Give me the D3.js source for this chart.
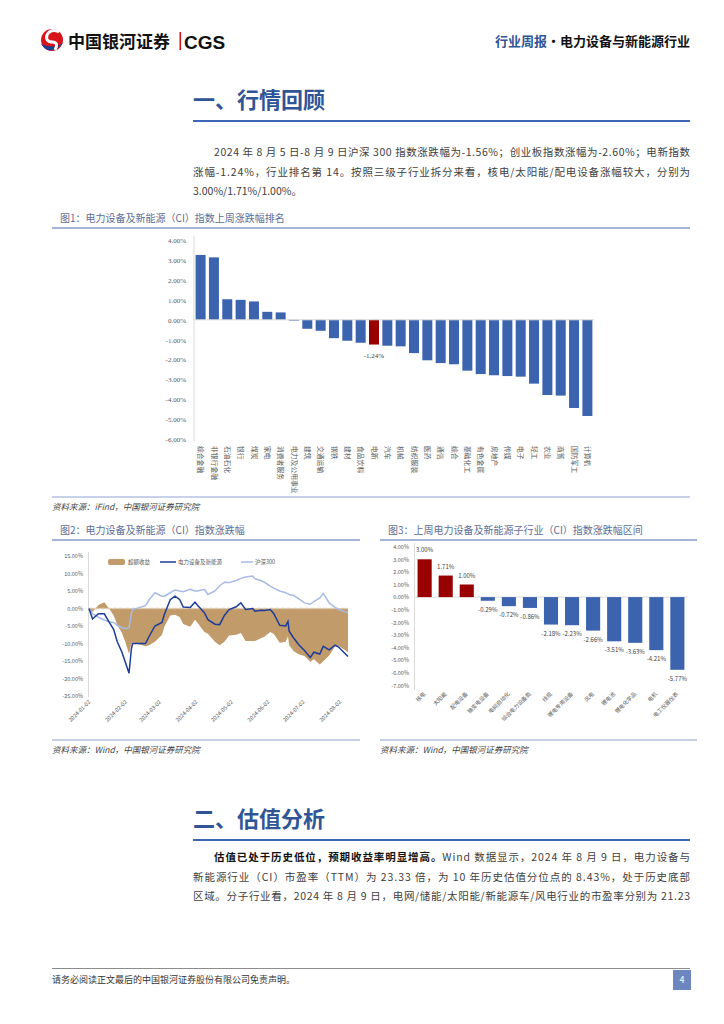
<!DOCTYPE html>
<html><head><meta charset="utf-8">
<script src="https://cdn.jsdelivr.net/npm/d3@7"></script>
<style>
html,body{margin:0;padding:0;background:#fff;}
svg{display:block;}
text{font-family:"Noto Sans CJK SC","Noto Sans",sans-serif;}
</style></head><body>
<svg id="page" width="724" height="1024"></svg>
<script>
// ---------------- DATA ----------------
const rankCategories = ["综合金融","非银行金融","石油石化","银行","煤炭","家电","消费者服务","电力及公用事业","建筑","交通运输","钢铁","建材","食品饮料","电新","汽车","机械","纺织服装","医药","通信","综合","基础化工","有色金属","房地产","传媒","电子","轻工","农业","商贸","国防军工","计算机"];
const rankValues = [3.25,3.13,1.03,1.00,0.92,0.40,0.37,-0.04,-0.45,-0.55,-0.92,-1.05,-1.15,-1.24,-1.30,-1.33,-1.67,-2.03,-2.17,-2.23,-2.55,-2.72,-2.78,-2.82,-2.85,-3.20,-3.77,-3.80,-4.42,-4.82];
const rankHighlight = "电新";
const rankTicks = [4,3,2,1,0,-1,-2,-3,-4,-5,-6];

const trendDates = ["2024-01-02","2024-01-05","2024-01-10","2024-01-15","2024-01-19","2024-01-23","2024-01-26","2024-01-30","2024-02-02","2024-02-05","2024-02-07","2024-02-08","2024-02-19","2024-02-22","2024-02-27","2024-03-04","2024-03-06","2024-03-11","2024-03-15","2024-03-19","2024-03-22","2024-03-28","2024-04-01","2024-04-03","2024-04-09","2024-04-12","2024-04-18","2024-04-22","2024-04-26","2024-04-30","2024-05-06","2024-05-10","2024-05-14","2024-05-20","2024-05-22","2024-05-27","2024-05-30","2024-06-04","2024-06-07","2024-06-12","2024-06-17","2024-06-19","2024-06-20","2024-06-24","2024-06-28","2024-07-03","2024-07-08","2024-07-11","2024-07-16","2024-07-19","2024-07-24","2024-07-29","2024-08-01","2024-08-06","2024-08-09"];
const sectorReturn = [0,-3.0,-1.5,-1.5,-3.8,-6.0,-9.5,-12.5,-15.5,-18.5,-11.5,-10.0,-10.0,-8.0,-5.0,-4.0,-1.7,2.5,3.5,2.6,0.4,0.3,1.8,1.0,-1.2,-3.2,-4.5,-4.6,-2.0,-0.3,0.5,1.6,-0.3,0.0,-0.8,-0.5,-0.6,-0.3,-1.5,-4.8,-5.0,-3.7,-6.5,-8.5,-10.3,-12.0,-14.0,-12.5,-13.0,-10.8,-11.8,-10.5,-11.0,-12.7,-13.7];
const hs300Return = [0,-1.5,-2.5,-3.3,-3.8,-4.0,-4.8,-5.5,-5.8,-5.5,-1.5,-0.3,0.8,2.5,4.5,3.5,3.5,4.5,5.3,5.0,4.8,5.5,5.0,5.0,5.5,4.0,5.0,6.5,7.5,7.4,8.0,8.6,9.0,9.3,8.5,8.0,7.5,6.4,5.8,5.0,4.5,4.2,4.0,3.7,2.8,1.6,1.2,2.0,3.0,4.3,1.6,0.3,-0.3,-0.9,-1.2];
const excessReturn = [0,-1.0,1.0,1.8,0.0,-2.0,-4.7,-7.0,-9.7,-13.0,-10.0,-9.7,-10.8,-10.5,-9.5,-7.5,-5.2,-2.0,-1.8,-2.4,-4.4,-5.2,-3.2,-4.0,-6.7,-7.2,-9.5,-10.5,-9.5,-7.7,-7.5,-7.0,-9.3,-9.3,-9.3,-8.5,-8.1,-6.7,-7.3,-9.8,-9.5,-7.9,-10.5,-12.2,-13.1,-13.6,-15.2,-14.5,-16.0,-15.1,-13.4,-10.8,-10.7,-11.8,-12.5];
const trendTicks = [15,10,5,0,-5,-10,-15,-20,-25];
const trendTickDates = ["2024-01-02","2024-02-02","2024-03-02","2024-04-02","2024-05-02","2024-06-02","2024-07-02","2024-08-02"];
const trendLegend = ["超额收益","电力设备及新能源","沪深300"];

const subCategories = ["核电","太阳能","配电设备","输变电设备","电网自动化","综合电力设备商","线缆","锂电专用设备","风电","锂电池","锂电化学品","电机","电工仪器仪表"];
const subValues = [3.00,1.71,1.00,-0.29,-0.72,-0.86,-2.18,-2.23,-2.66,-3.51,-3.63,-4.21,-5.77];
const subTicks = [4,3,2,1,0,-1,-2,-3,-4,-5,-6,-7];

// ---------------- PAGE ----------------
const svg = d3.select("#page");
const BLUE = "#3c64ae", RED = "#990000", GRAY = "#595959";
const pct = d => d.toFixed(2) + "%";

// header logo
const logo = svg.append("g");
logo.append("circle").attr("cx",52).attr("cy",40).attr("r",11).attr("fill","#d7161c");
logo.append("path").attr("d","M41,44 Q50,58 64,42 Q55,50 41,44 Z").attr("fill","#1c3f92");
logo.append("path").attr("d","M59,32 Q51,28 47,35 Q45,42 53,42 Q59,43 55,50").attr("fill","none").attr("stroke","#fff").attr("stroke-width",3);
svg.append("text").attr("x",68).attr("y",48).attr("font-size",17).attr("font-weight",700).attr("fill","#111").text("中国银河证券");
svg.append("rect").attr("x",179.5).attr("y",32).attr("width",1.6).attr("height",18).attr("fill","#c8161d");
svg.append("text").attr("x",184).attr("y",48.5).attr("font-size",19).attr("font-weight",700).attr("fill","#111")
  .style("font-family","'Liberation Sans',Arial,sans-serif").text("CGS");
const hr = svg.append("text").attr("x",690).attr("y",46).attr("text-anchor","end").attr("font-size",13).attr("font-weight",700);
hr.append("tspan").attr("fill","#2f5597").text("行业周报");
hr.append("tspan").attr("fill","#111").text("·电力设备与新能源行业");

// section heading helper
function heading(t, y){
  svg.append("text").attr("x",193).attr("y",y).attr("font-size",22).attr("font-weight",700).attr("fill","#2f5597").text(t);
  svg.append("line").attr("x1",193).attr("x2",690).attr("y1",y+13).attr("y2",y+13).attr("stroke","#3d66b5").attr("stroke-width",2);
}
function para(lines, y0){
  lines.forEach((ln,i)=>{
    const t = svg.append("text").attr("x",ln.x).attr("y",y0+i*19.7).attr("font-size",10.5).attr("fill","#404040");
    if(ln.w) t.attr("textLength",ln.w).attr("lengthAdjust","spacing");
    ln.parts.forEach(p=>t.append("tspan").attr("font-weight",p.b?700:400).attr("fill",p.b?"#111":"#404040").text(p.t));
  });
}
heading("一、行情回顾",108);
para([
  {x:214,w:476,parts:[{t:"2024 年 8 月 5 日-8 月 9 日沪深 300 指数涨跌幅为-1.56%；创业板指数涨幅为-2.60%；电新指数"}]},
  {x:193,w:497,parts:[{t:"涨幅-1.24%，行业排名第 14。按照三级子行业拆分来看，核电/太阳能/配电设备涨幅较大，分别为"}]},
  {x:193,parts:[{t:"3.00%/1.71%/1.00%。"}]}
],156);

// chart title helper
function chartTitle(t,x1,x2,y){
  svg.append("text").attr("x",x1+8).attr("y",y).attr("font-size",10).attr("fill","#5d6d96").text(t);
  svg.append("line").attr("x1",x1).attr("x2",x2).attr("y1",y+6).attr("y2",y+6).attr("stroke","#a5b4d9").attr("stroke-width",2);
}
function source(t,x1,x2,y){
  svg.append("line").attr("x1",x1).attr("x2",x2).attr("y1",y).attr("y2",y).attr("stroke","#8ea3d0").attr("stroke-width",1);
  svg.append("text").attr("x",x1).attr("y",y+13).attr("font-size",8.5).attr("fill","#444").style("font-style","italic").text(t);
}

// ---------------- CHART 1 ----------------
chartTitle("图1：电力设备及新能源（CI）指数上周涨跌幅排名",52,690,222);
const g1 = svg.append("g");
const x1 = d3.scaleBand().domain(rankCategories).range([194,594]).paddingInner(0.25).paddingOuter(0.12);
const y1 = d3.scaleLinear().domain([-6,4]).range([439.5,240]);
g1.append("line").attr("x1",194).attr("x2",194).attr("y1",236).attr("y2",441).attr("stroke","#d9d9d9");
const ax1 = g1.append("g").attr("transform","translate(194,0)")
  .call(d3.axisLeft(y1).tickValues(rankTicks).tickFormat(pct).tickSize(0).tickPadding(8));
ax1.select(".domain").remove();
ax1.selectAll("text").attr("font-size",7).attr("fill",GRAY).style("font-family","'Liberation Serif',serif");
g1.selectAll("rect.bar").data(rankValues).join("rect").attr("class","bar")
  .attr("x",(d,i)=>x1(rankCategories[i])).attr("width",x1.bandwidth())
  .attr("y",d=>y1(Math.max(0,d))).attr("height",d=>Math.abs(y1(d)-y1(0)))
  .attr("fill",(d,i)=>rankCategories[i]===rankHighlight?RED:BLUE);
g1.append("line").attr("x1",194).attr("x2",594).attr("y1",y1(0)).attr("y2",y1(0)).attr("stroke","#d9d9d9");
const hi = rankCategories.indexOf(rankHighlight);
g1.append("text").attr("x",x1(rankHighlight)+x1.bandwidth()/2).attr("y",y1(rankValues[hi])+13)
  .attr("text-anchor","middle").attr("font-size",7).attr("fill","#404040").style("font-family","'Liberation Serif',serif").text(pct(rankValues[hi]));
g1.selectAll("text.xl").data(rankCategories).join("text").attr("class","xl")
  .attr("transform",d=>`translate(${x1(d)+x1.bandwidth()/2},446) rotate(90)`)
  .attr("dy","0.35em").attr("font-size",6.8).attr("fill",GRAY).text(d=>d);
source("资料来源：iFind，中国银河证券研究院",52,690,497);

// ---------------- CHART 2 ----------------
chartTitle("图2：电力设备及新能源（CI）指数涨跌幅",52,360,534);
const parse = d3.timeParse("%Y-%m-%d");
const dts = trendDates.map(parse);
const g2 = svg.append("g");
const x2 = d3.scaleTime().domain([dts[0],dts[dts.length-1]]).range([89,348]);
const y2 = d3.scaleLinear().domain([-25,15]).range([696,556]);
g2.append("line").attr("x1",88.5).attr("x2",88.5).attr("y1",552).attr("y2",697).attr("stroke","#d9d9d9");
const ax2 = g2.append("g").attr("transform","translate(88,0)")
  .call(d3.axisLeft(y2).tickValues(trendTicks).tickFormat(pct).tickSize(0).tickPadding(5));
ax2.select(".domain").remove();
ax2.selectAll("text").attr("font-size",5.5).attr("fill",GRAY);
g2.append("path").datum(excessReturn)
  .attr("d",d3.area().x((d,i)=>x2(dts[i])).y0(y2(0)).y1(d=>y2(d)))
  .attr("fill","#c29b6a");
g2.append("line").attr("x1",89).attr("x2",348).attr("y1",y2(0)).attr("y2",y2(0))
  .attr("stroke","#dcc8ab").attr("stroke-width",1.5).attr("stroke-dasharray","4,2");
const ln = d3.line().x((d,i)=>x2(dts[i])).y(d=>y2(d));
g2.append("path").datum(hs300Return).attr("d",ln).attr("fill","none").attr("stroke","#a6bbe5").attr("stroke-width",1.5);
g2.append("path").datum(sectorReturn).attr("d",ln).attr("fill","none").attr("stroke","#1d3c9a").attr("stroke-width",1.5);
const axb2 = g2.append("g").attr("transform","translate(0,701)")
  .call(d3.axisBottom(x2).tickValues(trendTickDates.map(parse)).tickFormat(d3.timeFormat("%Y-%m-%d")).tickSize(0));
axb2.select(".domain").remove();
axb2.selectAll("text").attr("y",0).attr("dy","0.35em").attr("transform","rotate(-45)")
  .style("text-anchor","end").attr("font-size",5.5).attr("fill",GRAY);
// legend
const lg = g2.append("g");
lg.append("rect").attr("x",108).attr("y",559).attr("width",17).attr("height",6).attr("rx",2).attr("fill","#c29b6a");
lg.append("text").attr("x",128).attr("y",564).attr("font-size",5.5).attr("fill",GRAY).text(trendLegend[0]);
lg.append("line").attr("x1",160).attr("x2",176).attr("y1",562).attr("y2",562).attr("stroke","#1d3c9a").attr("stroke-width",1.5);
lg.append("text").attr("x",178).attr("y",564).attr("font-size",5.5).attr("fill",GRAY).text(trendLegend[1]);
lg.append("line").attr("x1",241).attr("x2",253).attr("y1",562).attr("y2",562).attr("stroke","#a6bbe5").attr("stroke-width",1.5);
lg.append("text").attr("x",255).attr("y",564).attr("font-size",5.5).attr("fill",GRAY).text(trendLegend[2]);
source("资料来源：Wind，中国银河证券研究院",52,360,740);

// ---------------- CHART 3 ----------------
chartTitle("图3：上周电力设备及新能源子行业（CI）指数涨跌幅区间",380,697,534);
const g3 = svg.append("g");
const x3 = d3.scaleBand().domain(subCategories).range([414,688]).paddingInner(0.33).paddingOuter(0.17);
const y3 = d3.scaleLinear().domain([-7,4]).range([685.3,546.7]);
g3.append("line").attr("x1",414.5).attr("x2",414.5).attr("y1",543).attr("y2",690).attr("stroke","#d9d9d9");
const ax3 = g3.append("g").attr("transform","translate(414,0)")
  .call(d3.axisLeft(y3).tickValues(subTicks).tickFormat(pct).tickSize(0).tickPadding(5));
ax3.select(".domain").remove();
ax3.selectAll("text").attr("font-size",5.5).attr("fill",GRAY);
g3.append("line").attr("x1",414).attr("x2",688).attr("y1",y3(0)).attr("y2",y3(0)).attr("stroke","#d9d9d9");
g3.selectAll("rect.bar").data(subValues).join("rect").attr("class","bar")
  .attr("x",(d,i)=>x3(subCategories[i])).attr("width",x3.bandwidth())
  .attr("y",d=>y3(Math.max(0,d))).attr("height",d=>Math.abs(y3(d)-y3(0)))
  .attr("fill",d=>d>=0?RED:BLUE);
g3.selectAll("text.vl").data(subValues).join("text").attr("class","vl")
  .attr("x",(d,i)=>x3(subCategories[i])+x3.bandwidth()/2)
  .attr("y",d=>d>=0?y3(d)-7:y3(d)+11)
  .attr("text-anchor","middle").attr("font-size",6).attr("fill","#404040").text(d=>pct(d));
const axb3 = g3.append("g").attr("transform","translate(0,693)")
  .call(d3.axisBottom(x3).tickSize(0));
axb3.select(".domain").remove();
axb3.selectAll("text").attr("y",0).attr("dy","0.35em").attr("transform","rotate(-45)")
  .style("text-anchor","end").attr("font-size",5.5).attr("fill",GRAY);
source("资料来源：Wind，中国银河证券研究院",380,697,740);

// ---------------- SECTION 2 ----------------
heading("二、估值分析",827);
para([
  {x:214,w:476,parts:[{t:"估值已处于历史低位，预期收益率明显增高。",b:true},{t:"Wind 数据显示，2024 年 8 月 9 日，电力设备与"}]},
  {x:193,w:497,parts:[{t:"新能源行业（CI）市盈率（TTM）为 23.33 倍，为 10 年历史估值分位点的 8.43%，处于历史底部"}]},
  {x:193,w:497,parts:[{t:"区域。分子行业看，2024 年 8 月 9 日，电网/储能/太阳能/新能源车/风电行业的市盈率分别为 21.23"}]}
],861);

// ---------------- FOOTER ----------------
svg.append("line").attr("x1",52).attr("x2",690).attr("y1",968.5).attr("y2",968.5).attr("stroke","#8c8c8c");
svg.append("text").attr("x",52).attr("y",983).attr("font-size",9).attr("fill","#333").text("请务必阅读正文最后的中国银河证券股份有限公司免责声明。");
svg.append("rect").attr("x",673).attr("y",970).attr("width",18).attr("height",20).attr("fill","#6d86c0");
svg.append("text").attr("x",682).attr("y",983).attr("text-anchor","middle").attr("font-size",9).attr("fill","#fff").text("4");
</script>
</body></html>
